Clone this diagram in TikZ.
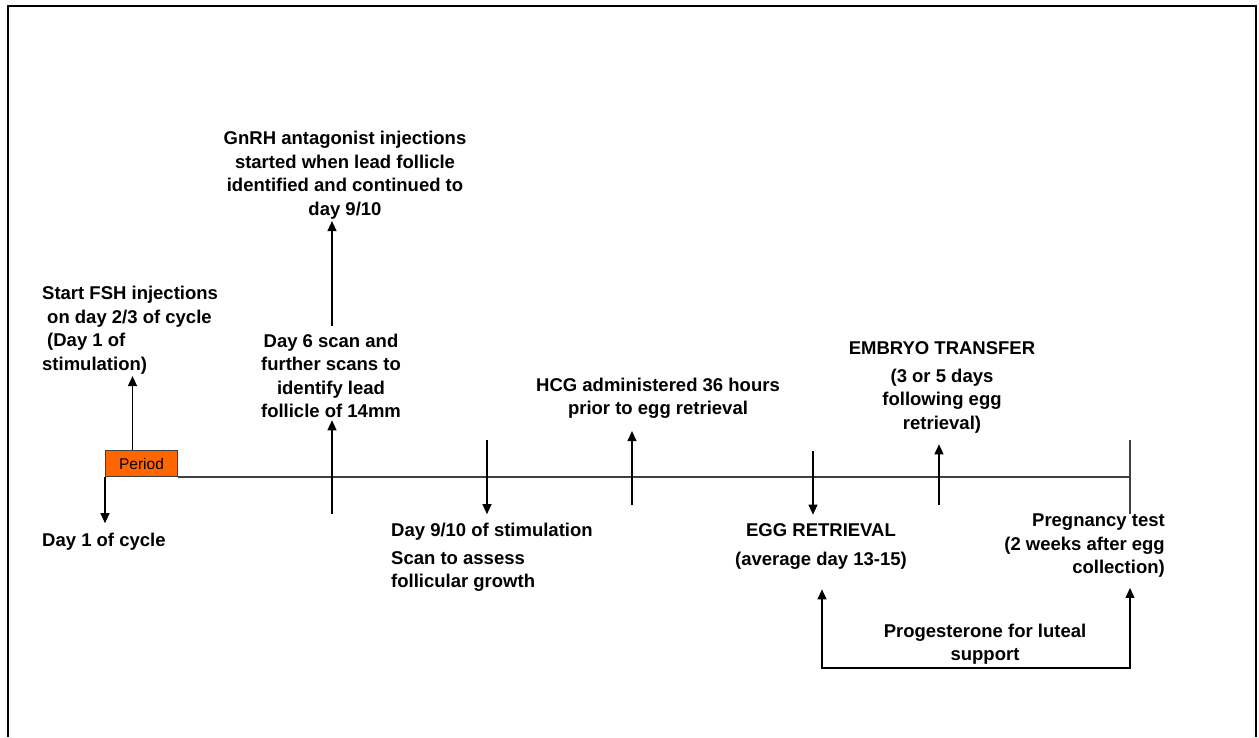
\documentclass[tikz,border=0pt]{standalone}
\usepackage{fontspec}
\setmainfont{Liberation Sans}
\usepackage{tikz}
\usetikzlibrary{arrows.meta,positioning}
\definecolor{periodorange}{RGB}{255,102,0}
\definecolor{linegray}{RGB}{64,64,64}
\tikzstyle{arrow} = [line width=1.2pt,-{Triangle[length=10pt,width=9pt]},color=black]
\tikzstyle{line} = [line width=1.2pt,color=linegray]
\tikzstyle{note} = [inner sep=2pt, font=\fontsize{18.5}{23.5}\selectfont\bfseries]
\tikzstyle{periodbox} = [rectangle, draw=linegray, fill=periodorange, line width=1pt,
    minimum width=72pt, minimum height=26pt, inner sep=0pt, font=\fontsize{15.5}{18}\selectfont]

\begin{document}
\begin{tikzpicture}[x=1pt,y=-1pt]
\useasboundingbox (0,0) rectangle (1259,737);
% frame, open at the bottom
\draw[line width=2.5pt] (8,737) -- (8,6) -- (1256,6) -- (1256,737);

% timeline
\node[periodbox, anchor=south west] (period) at (105,477) {Period};
\coordinate (tend) at (1130,477);
\coordinate (ptop) at (1130,440);
\coordinate (pbot) at (1130,514);
\draw[line] (period.south east) -- (tend);
\draw[line] (ptop) -- (pbot);

% texts
\node[note, anchor=west, align=left] (fsh) at (40,330) {Start FSH injections\\\hspace*{5pt}on day 2/3 of cycle\\\hspace*{5pt}(Day 1 of\\stimulation)};
\node[note, anchor=west] (day1) at (40,542) {Day 1 of cycle};
\node[note, align=center] (gnrh) at (345,175) {GnRH antagonist injections\\started when lead follicle\\identified and continued to\\day 9/10};
\node[note, align=center] (day6) at (331,376) {Day 6 scan and\\further scans to\\identify lead\\follicle of 14mm};
\node[note, anchor=west, align=left] (day9) at (389,557.5) {Day 9/10 of stimulation\\[4pt]Scan to assess\\follicular growth};
\node[note, align=center] (hcg) at (658,398.5) {HCG administered 36 hours\\prior to egg retrieval};
\node[note, align=center] (egg) at (821,546.5) {EGG RETRIEVAL\\[5pt](average day 13-15)};
\node[note, align=center] (embryo) at (942,387.5) {EMBRYO TRANSFER\\[4pt](3 or 5 days\\following egg\\retrieval)};
\node[note, anchor=east, align=right] (preg) at (1167,546) {Pregnancy test\\(2 weeks after egg\\collection)};
\node[note, align=center] (prog) at (985,644) {Progesterone for luteal\\support};

% arrows
\coordinate (fshbase) at ([xshift=-9pt]period.north);
\draw[arrow] (fshbase) -- (fshbase |- fsh.south);
\draw[arrow, shorten >=8pt] (period.south west) -- (period.south west |- day1.north);
\coordinate (d6) at (332,514);
\draw[arrow] (d6) -- (d6 |- day6.south);
\draw[arrow, shorten <=6pt] (d6 |- day6.north) -- (d6 |- gnrh.south);
\coordinate (d9) at (487,440);
\draw[arrow, shorten >=7pt] (d9) -- (d9 |- day9.north);
\coordinate (hb) at (632,505);
\draw[arrow, shorten >=10pt] (hb) -- (hb |- hcg.south);
\coordinate (eb) at (813,451);
\draw[arrow, shorten >=7pt] (eb) -- (eb |- egg.north);
\coordinate (emb) at (939,505);
\draw[arrow, shorten >=9pt] (emb) -- (emb |- embryo.south);
\coordinate (pl) at (822,668);
\coordinate (pr) at (1130,668);
\draw[arrow, {Triangle[length=10pt,width=9pt]}-{Triangle[length=10pt,width=9pt]}, shorten <=18pt, shorten >=8pt]
    (pl |- egg.south) -- (pl) -- (pr) -- (pr |- preg.south);
\end{tikzpicture}
\end{document}
